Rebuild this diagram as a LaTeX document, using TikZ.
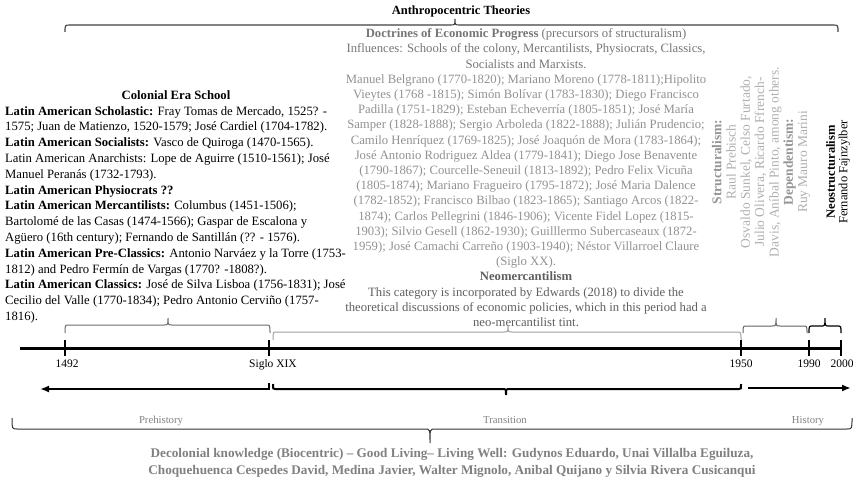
\documentclass[tikz,border=0pt]{standalone}
\usepackage{fontspec}
\setmainfont{Liberation Serif}
\usetikzlibrary{arrows.meta}
\definecolor{namegray}{RGB}{145,145,145}
\definecolor{headgray}{RGB}{118,118,118}
\definecolor{neogray}{RGB}{95,95,95}
\definecolor{structgray}{RGB}{175,175,175}
\definecolor{structhead}{RGB}{150,150,150}
\definecolor{decolgray}{RGB}{128,128,128}
\definecolor{periodgray}{RGB}{130,130,130}
\newcommand\tlbrace[8]{%
  \draw[#8] (#1,#4) .. controls (#1,#5) .. ({#1+#7},#5) -- ({#3-#7},#5)
    .. controls (#3,#5) .. (#3,#6) .. controls (#3,#5) .. ({#3+#7},#5)
    -- ({#2-#7},#5) .. controls (#2,#5) .. (#2,#4);}
\tikzset{
  body/.style={font=\fontsize{12.7}{15.8}\selectfont, inner sep=0pt},
  mid/.style={font=\fontsize{12.7}{15.2}\selectfont, inner sep=0pt, align=center},
  rot/.style={rotate=90, align=center, inner sep=0pt},
  yearlab/.style={font=\fontsize{11.5}{13}\selectfont, inner sep=0pt, anchor=base},
  periodlab/.style={font=\fontsize{10.7}{12}\selectfont, text=periodgray, inner sep=0pt, anchor=base},
  tlline/.style={line width=3pt, black},
  tickline/.style={line width=2pt, black},
  arrowline/.style={line width=2pt, black},
  tipa/.style={-{Latex[length=9pt,width=7pt]}},
  topbrace/.style={line width=1.1pt, black!75},
  colbrace/.style={line width=1pt, black!58},
  tranbrace/.style={line width=1pt, black!38},
  modbrace/.style={line width=1pt, black!62},
  neobrace/.style={line width=1.2pt, black},
  botbrace/.style={line width=1pt, black!80}
}
\begin{document}
\begin{tikzpicture}[x=1pt,y=-1pt]
\useasboundingbox (0,0) rectangle (853,481);

% title and top brace
\node[font=\bfseries\fontsize{12.5}{15}\selectfont, inner sep=0pt, anchor=base] (title) at (461,14.5) {Anthropocentric Theories};
\tlbrace{65}{838}{455}{32}{25}{19}{5}{topbrace}

% left column (base = baseline of the last line)
\node[body, font=\bfseries\fontsize{12.7}{15.8}\selectfont, anchor=base] (coltitle) at (176,99.5) {Colonial Era School};
\node[body, align=left, anchor=base west] (colbody) at (5,320.5) {%
\textbf{Latin American Scholastic:} Fray Tomas de Mercado, 1525? -\\
1575; Juan de Matienzo, 1520-1579; José Cardiel (1704-1782).\\
\textbf{Latin American Socialists:} Vasco de Quiroga (1470-1565).\\
Latin American Anarchists: Lope de Aguirre (1510-1561); José\\
Manuel Peranás (1732-1793).\\
\textbf{Latin American Physiocrats ??}\\
\textbf{Latin American Mercantilists:} Columbus (1451-1506);\\
Bartolomé de las Casas (1474-1566); Gaspar de Escalona y\\
Agüero (16th century); Fernando de Santillán (?? - 1576).\\
\textbf{Latin American Pre-Classics:} Antonio Narváez y la Torre (1753-\\
1812) and Pedro Fermín de Vargas (1770? -1808?).\\
\textbf{Latin American Classics:} José de Silva Lisboa (1756-1831); José\\
Cecilio del Valle (1770-1834); Pedro Antonio Cerviño (1757-\\
1816).};

% centre column
\node[mid, anchor=base, text=namegray] (doctrines) at (526,326.5) {%
\textcolor{headgray}{\textbf{Doctrines of Economic Progress} (precursors of structuralism)}\\
\textcolor{headgray}{Influences: Schools of the colony, Mercantilists, Physiocrats, Classics,}\\
\textcolor{headgray}{Socialists and Marxists.}\\
Manuel Belgrano (1770-1820); Mariano Moreno (1778-1811);Hipolito\\
Vieytes (1768 -1815); Simón Bolívar (1783-1830); Diego Francisco\\
Padilla (1751-1829); Esteban Echeverría (1805-1851); José María\\
Samper (1828-1888); Sergio Arboleda (1822-1888); Julián Prudencio;\\
Camilo Henríquez (1769-1825); José Joaquón de Mora (1783-1864);\\
José Antonio Rodriguez Aldea (1779-1841); Diego Jose Benavente\\
(1790-1867); Courcelle-Seneuil (1813-1892); Pedro Felix Vicuña\\
(1805-1874); Mariano Fragueiro (1795-1872); José Maria Dalence\\
(1782-1852); Francisco Bilbao (1823-1865); Santiago Arcos (1822-\\
1874); Carlos Pellegrini (1846-1906); Vicente Fidel Lopez (1815-\\
1903); Silvio Gesell (1862-1930); Guilllermo Subercaseaux (1872-\\
1959); José Camachi Carreño (1903-1940); Néstor Villarroel Claure\\
(Siglo XX).\\
\textcolor{neogray}{\textbf{Neomercantilism}}\\
\textcolor{neogray}{This category is incorporated by Edwards (2018) to divide the}\\
\textcolor{neogray}{theoretical discussions of economic policies, which in this period had a}\\
\textcolor{neogray}{neo-mercantilist tint.}};

% rotated blocks
\node[rot, font=\fontsize{13.5}{14.3}\selectfont, text=structgray] (struct) at (761,162) {%
\textcolor{structhead}{\textbf{Structuralism:}}\\
Raul Prebisch\\
Osvaldo Sunkel, Celso Furtado,\\
Julio Olivera, Ricardo Ffrench-\\
Davis, Aníbal Pinto, among others.\\
\textcolor{structhead}{\textbf{Dependentism:}}\\
Ruy Mauro Marini};
\node[rot, font=\fontsize{12.5}{12.5}\selectfont] (neostruct) at (838,172) {%
\textbf{Neostructuralism}\\
Fernando Fajnzylber};

% braces above the timeline
\tlbrace{65}{270}{168}{333}{325}{318}{4}{colbrace}
\tlbrace{273}{741}{508}{340}{332}{325}{4}{tranbrace}
\tlbrace{743}{807}{776}{333}{326}{318}{4}{modbrace}
\tlbrace{809}{841}{825}{333}{326}{318}{4}{neobrace}

% timeline
\coordinate (tstart) at (20,348);
\coordinate (t1492) at (65,348);
\coordinate (tsiglo) at (269,348);
\coordinate (t1950) at (741,348);
\coordinate (t1990) at (809,348);
\coordinate (t2000) at (841,348);
\draw[tlline] (tstart) -- (t2000);
\foreach \c in {t1492,tsiglo,t1950,t1990,t2000}
  \draw[tickline] ([yshift=8pt]\c) -- ([yshift=-8pt]\c);
\node[yearlab] (l1492) at (67,367) {1492};
\node[yearlab] (lsiglo) at (273,367) {Siglo XIX};
\node[yearlab] (l1950) at (741,367) {1950};
\node[yearlab] (l1990) at (809,367) {1990};
\node[yearlab] (l2000) at (842,367) {2000};

% period arrows
\coordinate (prehook) at (269,383);
\coordinate (precorner) at (269,389);
\coordinate (preend) at (40,389);
\draw[arrowline, tipa] (prehook) -- (precorner) -- (preend);
\tlbrace{273}{741}{506}{384}{389}{395}{2}{arrowline}
\coordinate (histstart) at (748,388);
\coordinate (histend) at (851,388);
\draw[arrowline, tipa] (histstart) -- (histend);

\node[periodlab] (prehistory) at (161,423) {Prehistory};
\node[periodlab] (transition) at (505,423) {Transition};
\node[periodlab] (history) at (808,423) {History};

% bottom brace and decolonial text
\tlbrace{12}{852}{430}{418}{429}{443}{5}{botbrace}
\node[font=\bfseries\fontsize{13.2}{17}\selectfont, text=decolgray, align=center, inner sep=0pt, anchor=base] (decol) at (452,474.5) {%
Decolonial knowledge (Biocentric) – Good Living– Living Well: Gudynos Eduardo, Unai Villalba Eguiluza,\\
Choquehuenca Cespedes David, Medina Javier, Walter Mignolo, Anibal Quijano y Silvia Rivera Cusicanqui};
\end{tikzpicture}
\end{document}
